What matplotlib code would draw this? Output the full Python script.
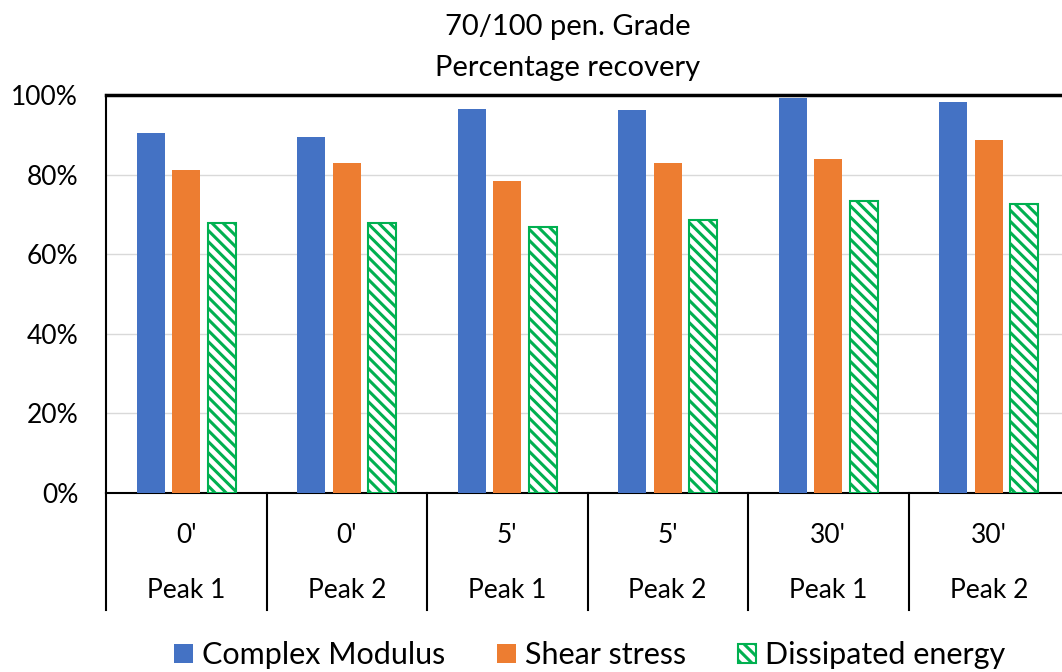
import matplotlib.pyplot as plt
import numpy as np

# data
times = ["0'", "0'", "5'", "5'", "30'", "30'"]
peaks = ["Peak 1", "Peak 2", "Peak 1", "Peak 2", "Peak 1", "Peak 2"]
complex_modulus = [90.4, 89.4, 96.5, 96.2, 99.2, 98.2]
shear_stress = [81.2, 83.0, 78.4, 82.9, 83.8, 88.7]
dissipated_energy = [67.8, 67.8, 66.8, 68.6, 73.4, 72.6]

plt.rcParams['font.family'] = ['Lato', 'DejaVu Sans']
plt.rcParams['hatch.linewidth'] = 2.2

fig = plt.figure(figsize=(10.62, 6.72), dpi=100)
ax = fig.add_axes([106 / 1062, 1 - 493 / 672, 963 / 1062, 398 / 672])

x = np.arange(len(times))
w = 0.174
step = 0.221
ax.bar(x - step, complex_modulus, w, color='#4472C4', label='Complex Modulus', zorder=3)
ax.bar(x, shear_stress, w, color='#ED7D31', label='Shear stress', zorder=3)
ax.bar(x + step, dissipated_energy, w, color='white', edgecolor='#00B050',
       linewidth=1.5, hatch='\\\\\\', label='Dissipated energy', zorder=3)

ax.set_xlim(-0.5, len(times) - 0.5)
ax.set_ylim(0, 100)
ax.set_yticks(np.arange(0, 101, 20))
ax.set_yticklabels([f"{v}%" for v in range(0, 101, 20)], fontsize=19)
ax.tick_params(axis='y', length=0, pad=20)
ax.set_xticks([])
ax.yaxis.grid(True, color='#D9D9D9', linewidth=1, zorder=0)

for s in ['top', 'left', 'bottom']:
    ax.spines[s].set_color('black')
ax.spines['top'].set_linewidth(2.5)
ax.spines['left'].set_linewidth(1.5)
ax.spines['bottom'].set_linewidth(1.5)
ax.spines['right'].set_visible(False)

# two-level category axis
trans = ax.get_xaxis_transform()
for b in np.arange(len(times) + 1) - 0.5:
    ax.plot([b, b], [0, -0.294], color='black', linewidth=1.5, transform=trans, clip_on=False)
for i in x:
    ax.text(i, -0.106, times[i], ha='center', va='center', fontsize=19, transform=trans)
    ax.text(i, -0.244, peaks[i], ha='center', va='center', fontsize=19, transform=trans)

fig.text(568 / 1062, 1 - 27 / 672, "70/100 pen. Grade", ha='center', va='center', fontsize=21)
fig.text(568 / 1062, 1 - 68 / 672, "Percentage recovery", ha='center', va='center', fontsize=21)

fig.legend(loc='center', bbox_to_anchor=(590 / 1062, 1 - 655 / 672), ncol=3, frameon=False,
           fontsize=22, handlelength=0.6, handleheight=0.6, handletextpad=0.3, columnspacing=1.7)

fig.savefig('out.png', dpi=100)
